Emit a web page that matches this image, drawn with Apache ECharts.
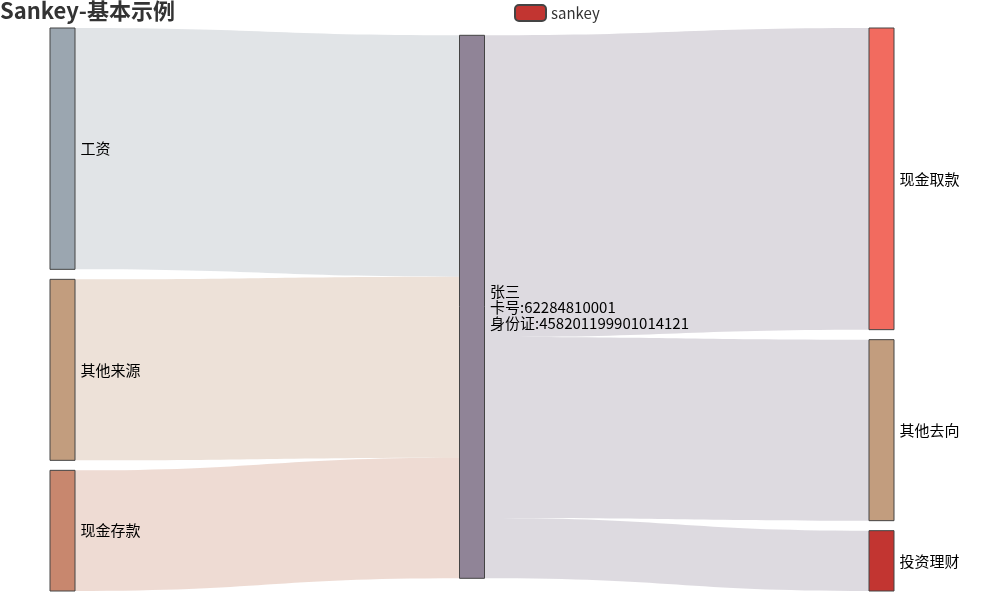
<!DOCTYPE html>
<html>
<head>
    <meta charset="utf-8">
    <title>Sankey-基本示例</title>
    <script src="https://cdn.jsdelivr.net/npm/echarts@6/dist/echarts.min.js"></script>
</head>
<body style="margin:0">
    <div id="main" style="width: 983px; height: 598px;"></div>
<script type="text/javascript">
// 节点
var nodeNames = ['工资', '其他来源', '现金存款',
    '张三\n卡号:62284810001\n身份证:458201199901014121',
    '现金取款', '其他去向', '投资理财'];
var nodeColors = ['#9ba6b0', '#c29d7e', '#c8876e', '#908497', '#f26b5f', '#c29d7e', '#c23531'];

// 流向
var linkSources = [0, 1, 2, 3, 3, 3];
var linkTargets = [3, 3, 3, 4, 5, 6];
var linkValues = [40, 30, 20, 50, 30, 10];

var nodes = nodeNames.map(function (n, i) {
    return { name: n, itemStyle: { color: nodeColors[i] } };
});
var links = linkValues.map(function (v, i) {
    return { source: nodeNames[linkSources[i]], target: nodeNames[linkTargets[i]], value: v };
});

var myChart = echarts.init(document.getElementById('main'));
var option = {
    animation: false,
    color: ['#c23531'],
    title: {
        text: 'Sankey-基本示例',
        left: 0,
        top: 0,
        padding: 0,
        textStyle: { fontSize: 22, fontWeight: 'bold', color: '#333', fontFamily: 'Noto Sans CJK SC' }
    },
    legend: {
        data: ['sankey'],
        top: 4,
        left: 514,
        padding: 0,
        itemWidth: 31,
        itemHeight: 16,
        textStyle: { fontSize: 15, color: '#333', fontFamily: 'Noto Sans CJK SC' }
    },
    series: [{
        name: 'sankey',
        type: 'sankey',
        left: 50,
        right: 89,
        top: 28,
        bottom: 7,
        nodeWidth: 25,
        nodeGap: 10,
        layoutIterations: 32,
        data: nodes,
        links: links,
        itemStyle: { borderWidth: 1, borderColor: '#444' },
        lineStyle: { color: 'source', opacity: 0.3, curveness: 0.5 },
        label: {
            position: 'right',
            color: '#000',
            fontSize: 15,
            lineHeight: 16,
            fontFamily: 'Noto Sans CJK SC'
        }
    }]
};
myChart.setOption(option);
</script>
</body>
</html>
